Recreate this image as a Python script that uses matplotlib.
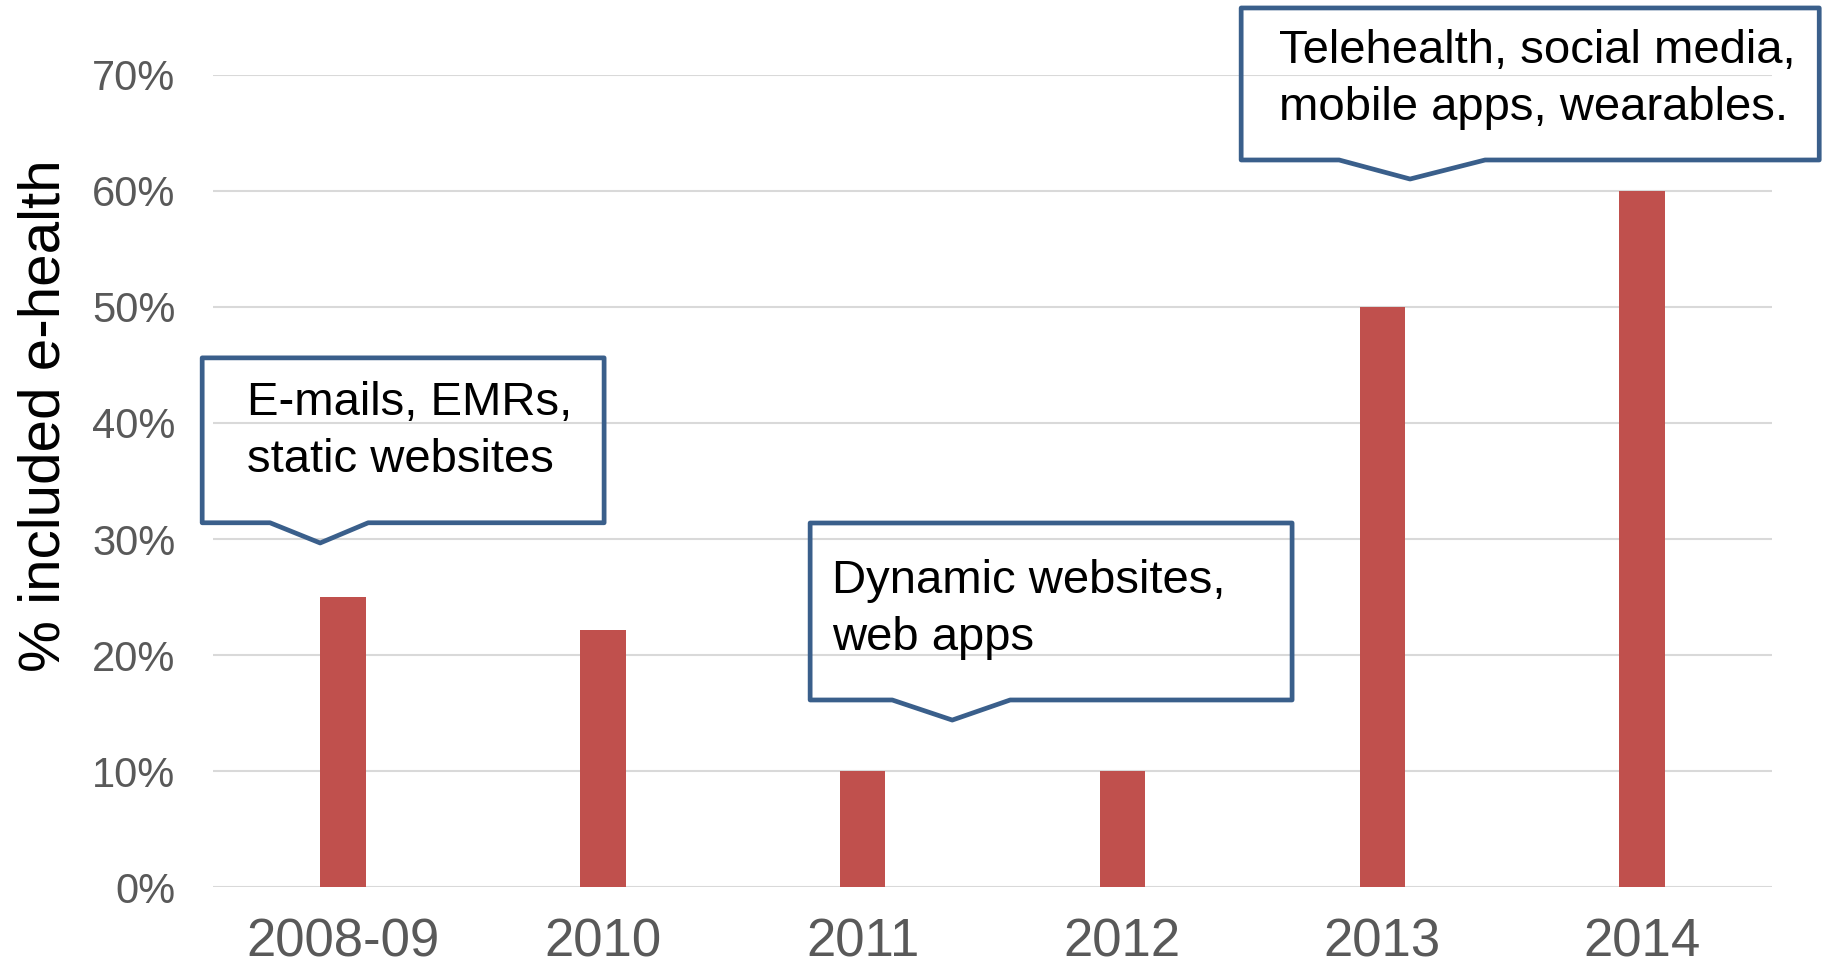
import matplotlib
matplotlib.use("Agg")
import matplotlib.pyplot as plt
from matplotlib.patches import Polygon
from matplotlib.ticker import FuncFormatter

years = ["2008-09", "2010", "2011", "2012", "2013", "2014"]
pct_ehealth = [25, 22.2, 10, 10, 50, 60]

callout_texts = [
    "E-mails, EMRs,\nstatic websites",
    "Dynamic websites,\nweb apps",
    "Telehealth, social media,\nmobile apps, wearables.",
]

BAR_RED = "#C0504D"
BOX_BLUE = "#3A5F8B"
GRID_GREY = "#D9D9D9"
TICK_GREY = "#595959"

plt.rcParams["font.family"] = ["Liberation Sans", "DejaVu Sans"]


def callout(ax, text, box, notch, tip, text_xy):
    """Rectangular callout with a downward pointer, no fill (gridlines show through).
    text_xy is the baseline of the last text line."""
    left, right, bottom, top = box
    pts = [(left, top), (right, top), (right, bottom), (notch[1], bottom),
           tip, (notch[0], bottom), (left, bottom)]
    ax.add_patch(Polygon(pts, closed=True, fill=False, edgecolor=BOX_BLUE,
                         linewidth=3.4, joinstyle="round", clip_on=False, zorder=4))
    ax.text(text_xy[0], text_xy[1], text, fontsize=34, color="black",
            ha="left", va="baseline", linespacing=1.37, zorder=5)


fig = plt.figure(figsize=(18.26, 9.74), dpi=100)
ax = fig.add_axes([0.1167, 0.0889, 0.8537, 0.8346])

x = range(len(years))
ax.bar(x, pct_ehealth, width=0.175, color=BAR_RED, zorder=3)

ax.set_xlim(-0.5, len(years) - 0.5)
ax.set_ylim(0, 70)
ax.set_yticks(range(0, 71, 10))
ax.yaxis.set_major_formatter(FuncFormatter(lambda v, _: f"{v:.0f}%"))
ax.set_xticks(list(x), years)

ax.grid(axis="y", color=GRID_GREY, linewidth=1.5, zorder=0)
ax.set_axisbelow(True)
for s in ax.spines.values():
    s.set_visible(False)
ax.tick_params(axis="y", length=0, pad=27, labelsize=30, labelcolor=TICK_GREY)
ax.tick_params(axis="x", length=0, pad=22, labelsize=38, labelcolor=TICK_GREY)

ax.set_ylabel("% included e-health", fontsize=42, color="black")
ax.yaxis.set_label_coords(-0.091, 0.58)

callout(ax, callout_texts[0], box=(-0.542, 1.005, 31.4, 45.6),
        notch=(-0.281, 0.097), tip=(-0.088, 29.66), text_xy=(-0.369, 35.77))
callout(ax, callout_texts[1], box=(1.798, 3.653, 16.14, 31.38),
        notch=(2.114, 2.568), tip=(2.345, 14.41), text_xy=(1.883, 20.44))
callout(ax, callout_texts[2], box=(3.457, 5.682, 62.64, 75.73),
        notch=(3.834, 4.396), tip=(4.107, 61.0), text_xy=(3.603, 66.1))

fig.savefig("out.png", dpi=100)
